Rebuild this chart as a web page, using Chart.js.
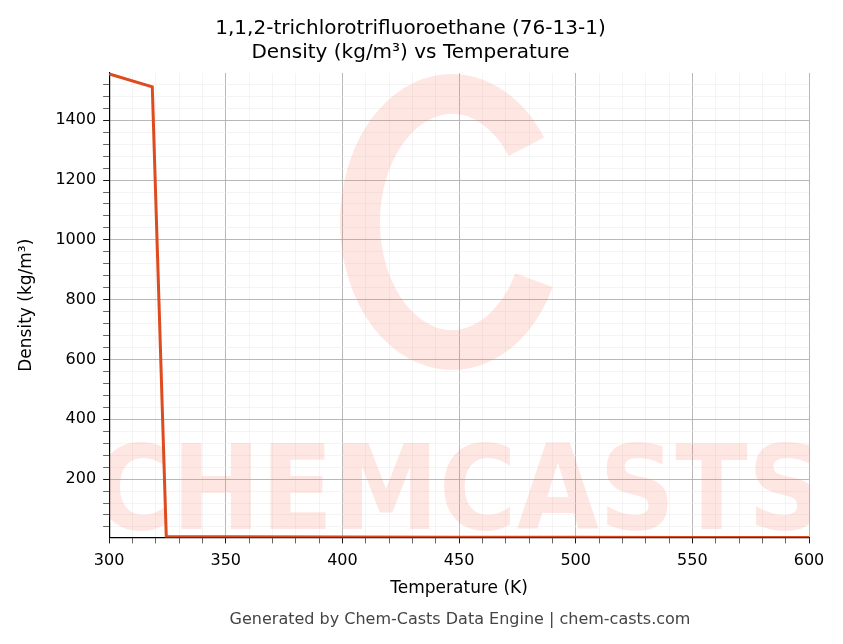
<!DOCTYPE html>
<html><head><meta charset="utf-8">
<script src="https://cdn.jsdelivr.net/npm/chart.js@4"></script>
<style>html,body{margin:0;padding:0;background:#fff}#wrap{width:843px;height:644px;position:relative}</style>
</head><body><div id="wrap"><canvas id="c" width="843" height="644"></canvas></div>
<script>
const temps = [300, 318.5, 324.5, 350, 400, 450, 500, 550, 600];
const density = [1555, 1512, 8, 7.5, 6.6, 5.9, 5.3, 4.9, 4.5];
const titleLines = ['1,1,2-trichlorotrifluoroethane (76-13-1)', 'Density (kg/m³) vs Temperature'];
const footer = 'Generated by Chem-Casts Data Engine | chem-casts.com';

const watermark = {
  id: 'wm',
  beforeDatasetsDraw(chart) {
    const {ctx, chartArea: a} = chart;
    ctx.save();
    ctx.beginPath(); ctx.rect(a.left, a.top, a.right - a.left, a.bottom - a.top); ctx.clip();
    ctx.fillStyle = 'rgba(250,120,100,0.18)';
    ctx.font = 'bold 118px "DejaVu Sans Condensed"';
    ctx.textAlign = 'center'; ctx.textBaseline = 'alphabetic';
    ctx.fillText('CHEMCASTS', (a.left + a.right) / 2, a.bottom - 8);
    ctx.strokeStyle = 'rgba(250,120,100,0.18)'; ctx.lineWidth = 40;
    ctx.beginPath(); ctx.ellipse(452, 222, 92, 128, 0, 0.15 * Math.PI, 1.8 * Math.PI); ctx.stroke();
    ctx.restore();
  },
  afterDraw(chart) {
    const {ctx} = chart;
    ctx.save();
    ctx.fillStyle = '#444'; ctx.font = '16px "DejaVu Sans"'; ctx.textAlign = 'center';
    ctx.fillText(footer, 460, 624);
    ctx.restore();
  }
};

new Chart(document.getElementById('c'), {
  type: 'line',
  data: { datasets: [{ data: temps.map((t, i) => ({x: t, y: density[i]})), borderColor: '#dd4b1f', borderWidth: 3, pointRadius: 0, tension: 0 }] },
  options: {
    responsive: false, animation: false,
    layout: { padding: { left: 12, right: 34, top: 8, bottom: 41 } },
    plugins: {
      legend: { display: false }, tooltip: { enabled: false },
      title: { display: true, text: titleLines, color: '#000', font: { family: 'DejaVu Sans', size: 20, weight: 'normal' }, padding: { top: 9, bottom: 8 }, lineHeight: 1.3 }
    },
    scales: {
      x: {
        type: 'linear', min: 300, max: 600,
        border: { color: '#000', width: 1.2 },
        ticks: { stepSize: 10, autoSkip: false, maxRotation: 0, padding: 8, color: '#000', font: { family: 'DejaVu Sans', size: 16 },
          callback: v => v % 50 === 0 ? v : '' },
        grid: { color: c => c.tick && c.tick.value % 50 === 0 ? '#b0b0b0' : '#ececec', lineWidth: c => c.tick && c.tick.value % 50 === 0 ? 0.9 : 0.6, tickLength: 6, tickColor: '#000' },
        title: { display: true, text: 'Temperature (K)', color: '#000', font: { family: 'DejaVu Sans', size: 17 }, padding: { top: 0 } }
      },
      y: {
        min: 5, max: 1558,
        border: { color: '#000', width: 1.2 },
        afterBuildTicks: s => { const t = []; for (let v = 40; v <= 1558; v += 40) t.push({value: v}); s.ticks = t; },
        ticks: { autoSkip: false, padding: 7, color: '#000', font: { family: 'DejaVu Sans', size: 16 }, callback: v => v % 200 === 0 ? v : '' },
        grid: { color: c => c.tick && c.tick.value % 200 === 0 ? '#b0b0b0' : '#ececec', lineWidth: c => c.tick && c.tick.value % 200 === 0 ? 0.9 : 0.6, tickLength: 6, tickColor: '#000' },
        title: { display: true, text: 'Density (kg/m³)', color: '#000', font: { family: 'DejaVu Sans', size: 17 }, padding: { bottom: 12 } }
      }
    }
  },
  plugins: [watermark]
});
</script></body></html>
